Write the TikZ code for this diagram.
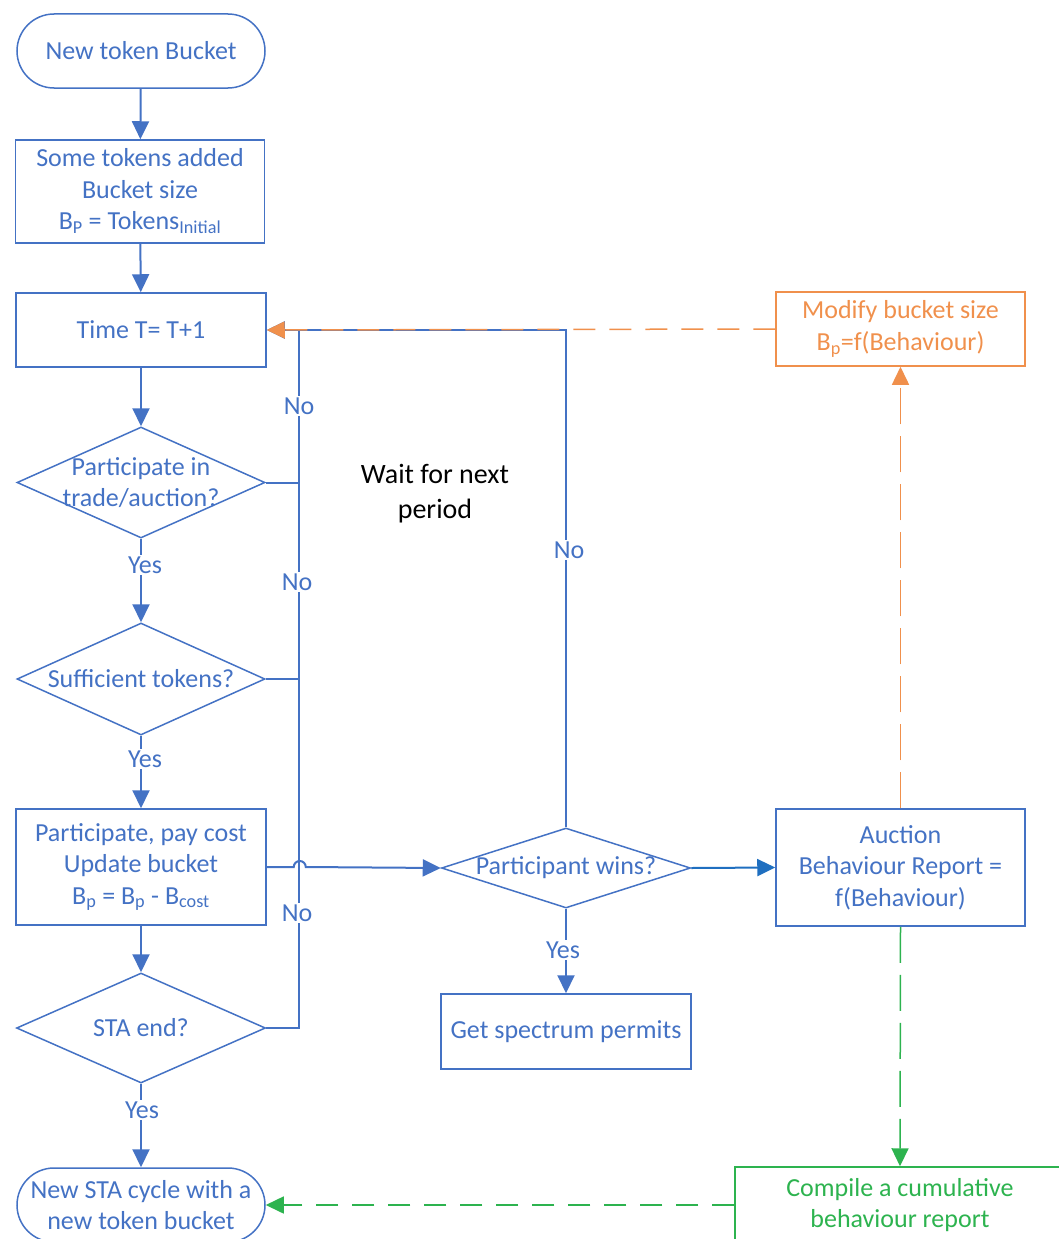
\documentclass[tikz,border=0pt]{standalone}
\usepackage{fontspec}
\setmainfont{Carlito}
\usetikzlibrary{arrows.meta,shapes.geometric}
\definecolor{fblue}{HTML}{4472C4}
\definecolor{fdblue}{HTML}{1F6FC0}
\definecolor{forange}{HTML}{F0904C}
\definecolor{fgreen}{HTML}{2DB34F}
\begin{document}
\begin{tikzpicture}[x=1pt,y=-1pt,
  every node/.style={font=\fontsize{26}{31.5}\selectfont},
  box/.style={draw=fblue,line width=1.5pt,text=fblue,align=center,inner sep=0pt},
  term/.style={box,rounded corners=37pt},
  dia/.style={draw=fblue,line width=1.5pt,shape=diamond,inner sep=0pt},
  dtext/.style={text=fblue,align=center,inner sep=0pt},
  lab/.style={text=fblue,fill=white,inner sep=2pt},
  tip/.style={-{Triangle[length=18pt,width=17pt]}},
  flow/.style={draw=fblue,line width=2pt,tip},
  wire/.style={draw=fblue,line width=2pt},
  odash/.style={draw=forange,line width=1.5pt,dash pattern=on 22pt off 14pt,tip},
  odashv/.style={draw=forange,line width=1.5pt,dash pattern=on 36pt off 12pt,tip},
  gdash/.style={draw=fgreen,line width=1.5pt,dash pattern=on 22pt off 14pt,tip},
  gdashv/.style={draw=fgreen,line width=1.5pt,dash pattern=on 36pt off 12pt,tip}
]
\path[use as bounding box,clip] (0,0) rectangle (1059,1239);

% left column
\node[term,minimum width=248pt,minimum height=74pt] (start) at (141,51) {New token Bucket};
\node[box,minimum width=249pt,minimum height=103pt] (init) at (140,191.5)
  {Some tokens added\\Bucket size\\B\textsubscript{P} = Tokens\textsubscript{Initial}};
\node[box,minimum width=250pt,minimum height=74pt] (tick) at (141,330) {Time T= T+1};
\node[dia,minimum width=248pt,minimum height=111pt] (d1) at (141,482.5) {};
\node[dtext] (d1t) at (d1) {Participate in\\trade/auction?};
\node[dia,minimum width=248pt,minimum height=112pt] (d2) at (141,679) {};
\node[dtext] (d2t) at (d2) {Sufficient tokens?};
\node[box,minimum width=250pt,minimum height=116pt] (pay) at (141,867)
  {Participate, pay cost\\Update bucket\\B\textsubscript{p} = B\textsubscript{p} - B\textsubscript{cost}};
\node[dia,minimum width=249pt,minimum height=110pt] (d3) at (141,1028) {};
\node[dtext] (d3t) at (d3) {STA end?};
\node[term,minimum width=248pt,minimum height=74pt] (endn) at (141,1205)
  {New STA cycle with a\\new token bucket};

% middle and right
\node[dia,minimum width=249pt,minimum height=80pt] (wins) at (566,868) {};
\node[dtext] (winst) at (wins) {Participant wins?};
\node[box,minimum width=250pt,minimum height=75pt] (permit) at (566,1031.5) {Get spectrum permits};
\node[box,minimum width=249pt,minimum height=117pt] (report) at (900.5,867.5)
  {Auction\\Behaviour Report =\\f(Behaviour)};
\node[box,draw=forange,text=forange,minimum width=249pt,minimum height=74pt] (modify) at (900.5,329)
  {Modify bucket size\\B\textsubscript{p}=f(Behaviour)};
\node[box,draw=fgreen,text=fgreen,minimum width=330pt,minimum height=76pt] (compile) at (900,1205)
  {Compile a cumulative\\behaviour report};
\node[align=center,font=\fontsize{28}{35}\selectfont] (wait) at (435,494) {Wait for next\\period};

% main column
\draw[flow] (start) -- (init);
\draw[flow] (init) -- (tick);
\draw[flow] (tick) -- (d1);
\draw[flow] (d1) -- (d2);
\draw[flow] (d2) -- (pay);
\draw[flow] (pay) -- (d3);
\draw[flow] (d3) -- (endn);
\node[lab] (y1) at (145,565) {Yes};
\node[lab] (y2) at (145,759) {Yes};
\node[lab] (y3) at (142,1110) {Yes};

% "No" return line back to the time step
\coordinate (jtop) at (299,330);
\draw[wire] (d3.east) -| (jtop);
\draw[wire] (d1.east) -- (d1.east -| jtop);
\draw[wire] (d2.east) -- (d2.east -| jtop);
\draw[flow] (wins.north) |- (tick.east);
\node[lab] (n1) at (299,406) {No};
\node[lab] (n2) at (297,582) {No};
\node[lab] (n3) at (297,913) {No};
\node[lab] (n4) at (569,550) {No};

% participation goes to the auction, hopping over the return line
\draw[flow] (pay.east) -- ++(27,0) arc[start angle=180,end angle=360,radius=6] -- (wins.west);
\draw[draw=fdblue,line width=2pt,tip] (wins.east) -- (report.west);
\draw[flow] (wins.south) -- (permit.north);
\node[lab] (y4) at (563,950) {Yes};

% behaviour feedback
\draw[odashv] (report.north) -- (modify.south);
\draw[odash] (modify.west) -- (tick.east);
\draw[gdashv] (report.south) -- (compile.north);
\draw[gdash] (compile.west) -- (endn.east);
\end{tikzpicture}
\end{document}
